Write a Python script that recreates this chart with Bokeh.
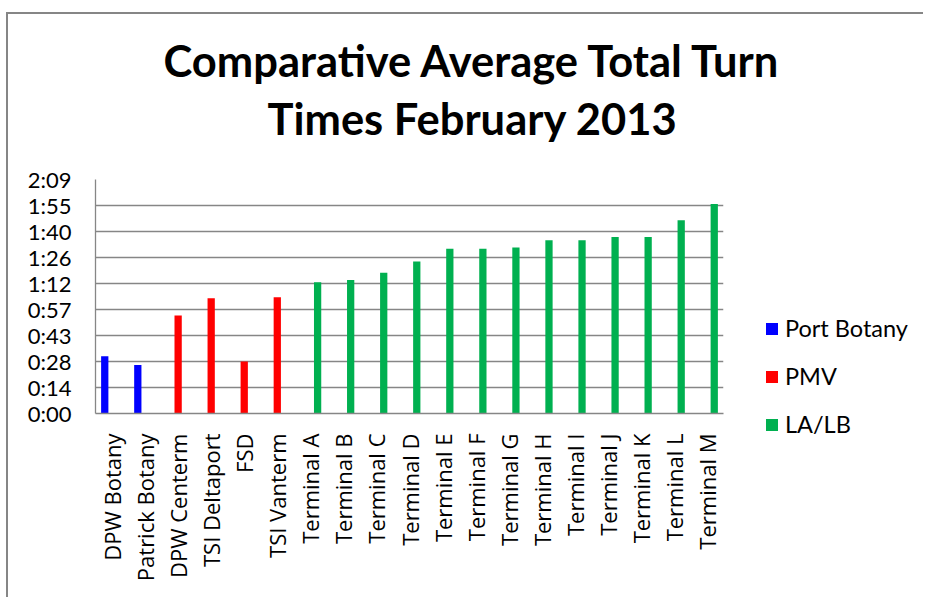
from bokeh.plotting import figure
from bokeh.models import (FactorRange, Range1d, FixedTicker, Legend, LegendItem,
                          Title, ColumnDataSource)
from bokeh.transform import dodge
from bokeh.embed import file_html
from bokeh.resources import INLINE
import math

# ---- data (minutes) ----
categories = ["DPW Botany", "Patrick Botany", "DPW Centerm", "TSI Deltaport", "FSD",
              "TSI Vanterm", "Terminal A", "Terminal B", "Terminal C", "Terminal D",
              "Terminal E", "Terminal F", "Terminal G", "Terminal H", "Terminal I",
              "Terminal J", "Terminal K", "Terminal L", "Terminal M"]

port_botany_cats = ["DPW Botany", "Patrick Botany"]
port_botany_vals = [31.7, 26.8]

pmv_cats = ["DPW Centerm", "TSI Deltaport", "FSD", "TSI Vanterm"]
pmv_vals = [54.3, 63.9, 28.8, 64.4]

lalb_cats = ["Terminal A", "Terminal B", "Terminal C", "Terminal D", "Terminal E",
             "Terminal F", "Terminal G", "Terminal H", "Terminal I", "Terminal J",
             "Terminal K", "Terminal L", "Terminal M"]
lalb_vals = [72.7, 74.0, 77.9, 84.2, 91.2, 91.2, 91.9, 96.0, 96.0, 97.8, 97.8, 107.1, 116.1]

series_names = ["Port Botany", "PMV", "LA/LB"]
series_colors = ["#0000FF", "#FF0000", "#00B050"]

y_ticks = [0, 14.4, 28.8, 43.2, 57.6, 72.0, 86.4, 100.8, 115.2, 129.6]
y_tick_labels = ["0:00", "0:14", "0:28", "0:43", "0:57", "1:12", "1:26", "1:40", "1:55", "2:09"]

title_lines = ["Comparative Average Total Turn", "Times February 2013"]

GRID = "#868686"

p = figure(x_range=FactorRange(*categories), y_range=Range1d(0, 129.6),
           output_backend="svg", toolbar_location=None, title=None,
           frame_width=628, frame_height=234,
           min_border_left=87, min_border_right=202,
           min_border_top=165, min_border_bottom=185)
p.styles = {"border-left": "2px solid #868686", "border-top": "2px solid #868686",
            "margin-left": "6px", "margin-top": "12px",
            "width": "917px", "height": "585px", "overflow": "hidden"}
p.outline_line_color = None
p.x_range.range_padding = 0
p.x_range.factor_padding = 0

sources = [
    ColumnDataSource(dict(cat=port_botany_cats, val=port_botany_vals)),
    ColumnDataSource(dict(cat=pmv_cats, val=pmv_vals)),
    ColumnDataSource(dict(cat=lalb_cats, val=lalb_vals)),
]
offsets = [-0.22, 0.0, 0.22]
renderers = []
for src, off, col in zip(sources, offsets, series_colors):
    r = p.vbar(x=dodge("cat", off, range=p.x_range), top="val", width=0.22,
               source=src, fill_color=col, line_color=None)
    renderers.append(r)

p.yaxis.ticker = FixedTicker(ticks=y_ticks)
p.yaxis.major_label_overrides = {t: l for t, l in zip(y_ticks, y_tick_labels)}
p.yaxis.major_tick_line_color = None
p.yaxis.minor_tick_line_color = None
p.yaxis.major_tick_out = 0
p.yaxis.major_label_standoff = 24
p.yaxis.axis_line_color = GRID
p.yaxis.axis_line_width = 1.3
p.yaxis.major_label_text_font = "Lato"
p.yaxis.major_label_text_font_size = "22px"
p.yaxis.major_label_text_color = "black"

p.xaxis.major_tick_line_color = None
p.xaxis.minor_tick_line_color = None
p.xaxis.major_tick_out = 0
p.xaxis.major_label_standoff = 20
p.xaxis.axis_line_color = GRID
p.xaxis.axis_line_width = 1.3
p.xaxis.major_label_orientation = math.pi / 2
p.xaxis.major_label_text_font = "Open Sans"
p.xaxis.major_label_text_font_size = "22px"
p.xaxis.major_label_text_color = "black"

p.xgrid.grid_line_color = None
p.ygrid.ticker = FixedTicker(ticks=y_ticks)
p.ygrid.grid_line_color = GRID
p.ygrid.grid_line_width = 1.3

legend = Legend(items=[LegendItem(label=n, renderers=[r]) for n, r in zip(series_names, renderers)],
                location=(41, -25), border_line_color=None, background_fill_alpha=0,
                padding=0, margin=0, spacing=20, glyph_width=15, glyph_height=15,
                label_height=15, label_standoff=6,
                label_text_font="Lato", label_text_font_size="23.5px",
                label_text_color="black", label_text_baseline="middle")
p.add_layout(legend, "right")

# spacer between frame and title, then the two title lines (nearest first)
p.add_layout(Title(text=" ", standoff=31, text_font_size="1px"), "above")
title_offsets = [68, 172]
for line, off in zip(reversed(title_lines), reversed(title_offsets)):
    p.add_layout(Title(text=line, align="left", offset=off, standoff=4,
                       text_font="Lato", text_font_style="bold",
                       text_font_size="43.5px", text_color="black"), "above")

open("out.html", "w").write(file_html(p, INLINE))
